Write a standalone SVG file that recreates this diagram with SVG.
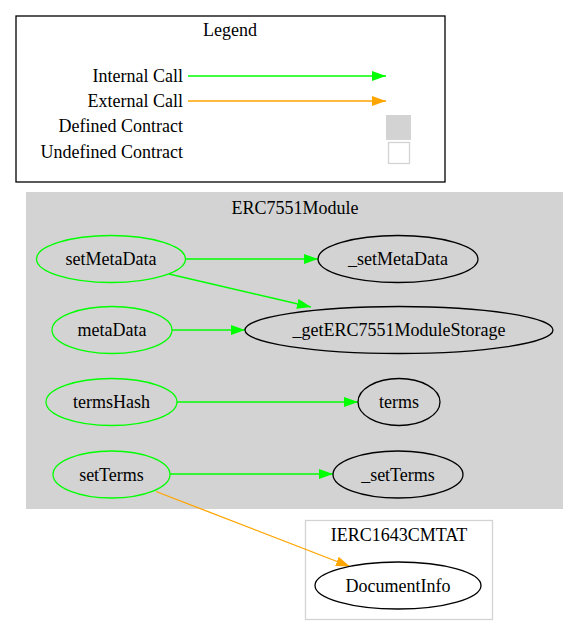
<svg xmlns="http://www.w3.org/2000/svg" width="579" height="636" viewBox="0 0 579 636">
<style>
text{font-family:"Liberation Serif","Times New Roman",serif;font-size:18px;fill:#000}
.c{text-anchor:middle}
.r{text-anchor:end}
.fn{fill:none;stroke:#00ff00;stroke-width:1.3}
.nd{fill:none;stroke:#000;stroke-width:1.3}
.g{fill:none;stroke:#00ff00;stroke-width:1.3}
.o{fill:none;stroke:#ffa500;stroke-width:1.3}
</style>
<defs>
<marker id="ag" viewBox="0 0 14 10" refX="14" refY="5" markerWidth="14" markerHeight="10" markerUnits="userSpaceOnUse" orient="auto"><path d="M0,0 L14,5 L0,10 z" fill="#00ff00"/></marker>
<marker id="ao" viewBox="0 0 14 10" refX="14" refY="5" markerWidth="14" markerHeight="10" markerUnits="userSpaceOnUse" orient="auto"><path d="M0,0 L14,5 L0,10 z" fill="#ffa500"/></marker>
</defs>
<rect width="579" height="636" fill="#fff"/>
<g id="legend">
<rect x="16" y="16" width="429" height="166" fill="#fff" stroke="#000" stroke-width="1.3"/>
<text class="c" x="230" y="36">Legend</text>
<text class="r" x="183" y="82">Internal Call</text>
<text class="r" x="183" y="107">External Call</text>
<text class="r" x="183" y="132">Defined Contract</text>
<text class="r" x="183" y="158">Undefined Contract</text>
<line x1="188" y1="76" x2="386" y2="76" class="g" marker-end="url(#ag)"/>
<line x1="188" y1="101" x2="386" y2="101" class="o" marker-end="url(#ao)"/>
<rect x="386" y="115" width="25" height="25" fill="#d3d3d3"/>
<rect x="388.5" y="142.5" width="21" height="21" fill="#fff" stroke="#d3d3d3" stroke-width="1.3"/>
</g>
<g id="cluster_ERC7551Module">
<rect x="26" y="192" width="537" height="317" fill="#d3d3d3"/>
<text class="c" x="295" y="214">ERC7551Module</text>
</g>
<g id="cluster_IERC1643CMTAT">
<rect x="305.5" y="520.5" width="187" height="99" fill="#fff" stroke="#d3d3d3" stroke-width="1.3"/>
<text class="c" x="399" y="541">IERC1643CMTAT</text>
</g>
<g id="connectors">
<line x1="186" y1="259" x2="318" y2="259" class="g" marker-end="url(#ag)"/>
<path d="M169,274 L311,307" class="g" marker-end="url(#ag)"/>
<line x1="172" y1="330" x2="245" y2="330" class="g" marker-end="url(#ag)"/>
<line x1="177" y1="402" x2="358" y2="402" class="g" marker-end="url(#ag)"/>
<line x1="170" y1="474" x2="333" y2="474" class="g" marker-end="url(#ag)"/>
<path d="M156,491.5 L350,566.5" class="o" marker-end="url(#ao)"/>
</g>
<g id="setMetaData"><ellipse cx="111" cy="259" rx="74.5" ry="23.5" class="fn"/><text class="c" x="111" y="265">setMetaData</text></g>
<g id="_setMetaData"><ellipse cx="398" cy="259" rx="80" ry="23.5" class="nd"/><text class="c" x="398" y="265">_setMetaData</text></g>
<g id="metaData"><ellipse cx="112" cy="330" rx="60" ry="23.5" class="fn"/><text class="c" x="112" y="336">metaData</text></g>
<g id="_getERC7551ModuleStorage"><ellipse cx="399" cy="330" rx="154" ry="23.5" class="nd"/><text class="c" x="399" y="336">_getERC7551ModuleStorage</text></g>
<g id="termsHash"><ellipse cx="111.5" cy="402" rx="65.5" ry="23.5" class="fn"/><text class="c" x="111.5" y="408">termsHash</text></g>
<g id="terms"><ellipse cx="399" cy="402" rx="41" ry="23.5" class="nd"/><text class="c" x="399" y="408">terms</text></g>
<g id="setTerms"><ellipse cx="111.5" cy="474.5" rx="58.5" ry="23.5" class="fn"/><text class="c" x="111.5" y="480.5">setTerms</text></g>
<g id="_setTerms"><ellipse cx="398" cy="474.5" rx="65" ry="23.5" class="nd"/><text class="c" x="398" y="480.5">_setTerms</text></g>
<g id="DocumentInfo"><ellipse cx="398" cy="585.5" rx="83" ry="23.5" class="nd"/><text class="c" x="398" y="591.5">DocumentInfo</text></g>
</svg>
